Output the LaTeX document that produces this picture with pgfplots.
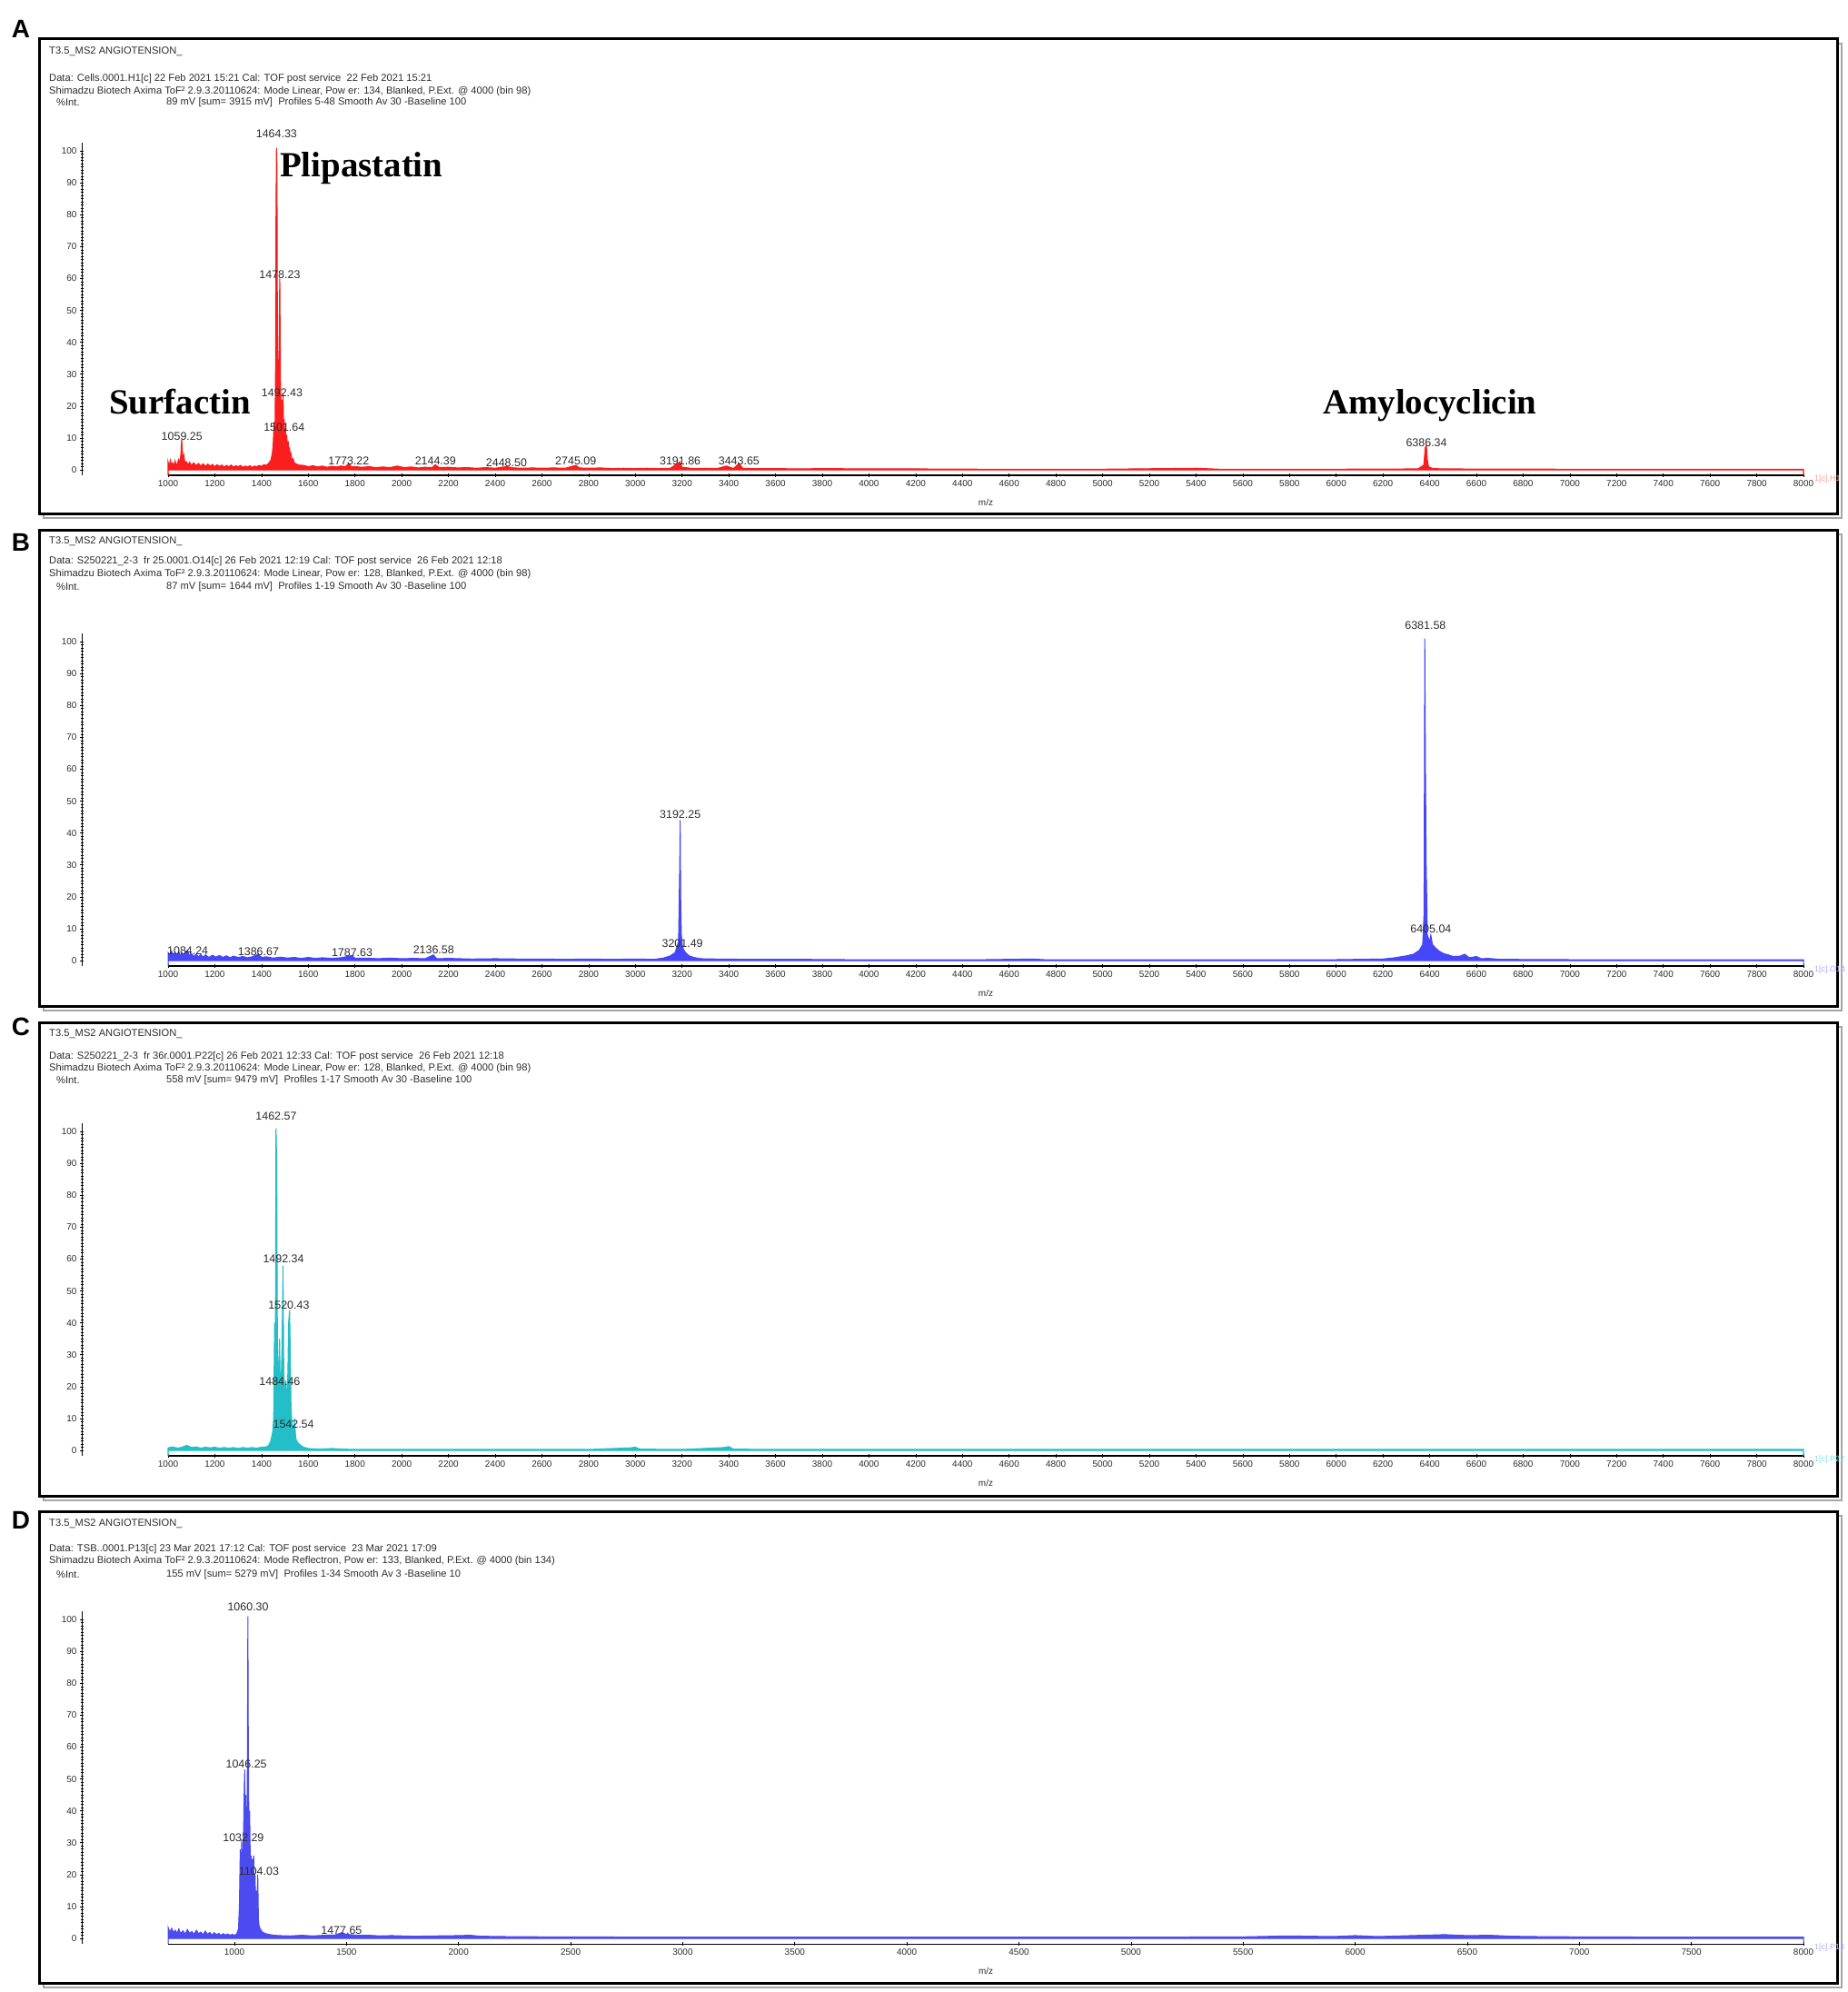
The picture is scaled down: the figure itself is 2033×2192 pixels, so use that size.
\documentclass[border=0pt]{standalone}
\usepackage{fontspec}
\setmainfont{Liberation Sans}
\newfontfamily\tnr{Liberation Serif}
\usepackage{pgfplots}
\pgfplotsset{compat=1.18}

\definecolor{specA}{RGB}{250,30,30}
\definecolor{specB}{RGB}{70,70,250}
\definecolor{specC}{RGB}{35,190,200}
\definecolor{specD}{RGB}{75,75,240}
\definecolor{txt}{RGB}{45,45,45}

\newcommand\hdr{\fontsize{11.2}{12}\selectfont}
\newcommand\tkf{\fontsize{10}{10}\selectfont}
\newcommand\pkf{\fontsize{12.5}{13}\selectfont}
\newcommand\cmpf{\tnr\bfseries\fontsize{39}{40}\selectfont}
\newcommand\plab{\bfseries\fontsize{28}{28}\selectfont}

\pgfplotsset{
  msbase/.style={scale only axis, height=366bp, ymin=-1.7, ymax=102.6,
    clip=false, anchor=south west,
    tick style={black, line width=0.7bp},
    major tick length=4bp, minor tick length=2.5bp, tick align=outside,
    /pgf/number format/1000 sep={}, /pgf/number format/assume math mode=true,
    ticklabel style={font=\tkf, text=txt}},
  spec/.style={msbase, width=1800bp, xmin=1000, xmax=8000,
    axis x line=bottom, axis y line=none,
    axis line style={-, line width=1.1bp},
    every outer x axis line/.append style={-},
    xtick={1000,1200,...,8000}, minor x tick num=3, xlabel={m/z},
    xlabel style={font=\tkf, text=txt, at={(axis description cs:0.5,0)},
      anchor=center, yshift=-30bp}},
  yax/.style={msbase, width=2bp, xmin=0, xmax=1,
    axis y line=left, axis x line=none,
    axis line style={-, line width=0.9bp},
    every outer y axis line/.append style={-},
    tick align=center, minor tick length=3bp,
    ytick={0,10,...,100}, minor y tick num=9},
  peaks/.style={only marks, mark=none, nodes near coords,
    point meta=explicit symbolic,
    nodes near coords style={font=\pkf, text=txt, inner sep=0pt}},
}

\begin{document}
\begin{tikzpicture}[x=1bp,y=1bp]
\path[use as bounding box] (0,0) rectangle (2033,-2192);

\begin{scope}[y=-1bp]
% frames
\foreach \t/\b in {43/565, 583/1107, 1125/1646, 1663/2182}{
  \draw[black!35, line width=2bp] (48,\t+5) -- (2027,\t+5) -- (2027,\b+5) -- (48,\b+5) -- cycle;
  \draw[black, line width=3bp, fill=white] (43,\t) rectangle (2022,\b);
}
% panel letters
\node[font=\plab] at (23,32) {A};
\node[font=\plab] at (23,597) {B};
\node[font=\plab] at (23,1130) {C};
\node[font=\plab] at (23,1673) {D};

\begin{scope}[every node/.style={anchor=west, font=\hdr, text=txt, inner sep=0pt}]
% A
\node at (54,57) {T3.5\_MS2 ANGIOTENSION\_};
\node at (54,87) {Data: Cells.0001.H1[c] 22 Feb 2021 15:21 Cal: TOF post service\ \ 22 Feb 2021 15:21};
\node at (54,101) {Shimadzu Biotech Axima ToF² 2.9.3.20110624: Mode Linear, Pow er: 134, Blanked, P.Ext. @ 4000 (bin 98)};
\node at (62,113) {\%Int.};
\node at (183,113) {89 mV [sum= 3915 mV]\ \ Profiles 5-48 Smooth Av 30 -Baseline 100};
% B
\node at (54,596) {T3.5\_MS2 ANGIOTENSION\_};
\node at (54,618) {Data: S250221\_2-3\ \ fr 25.0001.O14[c] 26 Feb 2021 12:19 Cal: TOF post service\ \ 26 Feb 2021 12:18};
\node at (54,632) {Shimadzu Biotech Axima ToF² 2.9.3.20110624: Mode Linear, Pow er: 128, Blanked, P.Ext. @ 4000 (bin 98)};
\node at (62,646) {\%Int.};
\node at (183,646) {87 mV [sum= 1644 mV]\ \ Profiles 1-19 Smooth Av 30 -Baseline 100};
% C
\node at (54,1138) {T3.5\_MS2 ANGIOTENSION\_};
\node at (54,1163) {Data: S250221\_2-3\ \ fr 36r.0001.P22[c] 26 Feb 2021 12:33 Cal: TOF post service\ \ 26 Feb 2021 12:18};
\node at (54,1176) {Shimadzu Biotech Axima ToF² 2.9.3.20110624: Mode Linear, Pow er: 128, Blanked, P.Ext. @ 4000 (bin 98)};
\node at (62,1189) {\%Int.};
\node at (183,1189) {558 mV [sum= 9479 mV]\ \ Profiles 1-17 Smooth Av 30 -Baseline 100};
% D
\node at (54,1677) {T3.5\_MS2 ANGIOTENSION\_};
\node at (54,1705) {Data: TSB..0001.P13[c] 23 Mar 2021 17:12 Cal: TOF post service\ \ 23 Mar 2021 17:09};
\node at (54,1718) {Shimadzu Biotech Axima ToF² 2.9.3.20110624: Mode Reflectron, Pow er: 133, Blanked, P.Ext. @ 4000 (bin 134)};
\node at (62,1733) {\%Int.};
\node at (183,1733) {155 mV [sum= 5279 mV]\ \ Profiles 1-34 Smooth Av 3 -Baseline 10};
% cut-off trace names at the right edge
\node[font=\fontsize{9}{9}\selectfont, text=specA!45] at (1997,527) {1[c].H1};
\node[font=\fontsize{9}{9}\selectfont, text=specB!45] at (1997,1067) {1[c].O14};
\node[font=\fontsize{9}{9}\selectfont, text=specC!55] at (1997,1606) {1[c].P22};
\node[font=\fontsize{9}{9}\selectfont, text=specD!45] at (1997,2143) {1[c].P13};
\end{scope}

% compound names
\node[anchor=base west, font=\cmpf, inner sep=0pt] at (308,195) {Plipastatin};
\node[anchor=base west, font=\cmpf, inner sep=0pt] at (120,455) {Surfactin};
\node[anchor=base west, font=\cmpf, inner sep=0pt] at (1456,455) {Amylocyclicin};
\end{scope}

% ---------------- A ----------------
\begin{axis}[yax, at={(90bp,-523bp)}]\addplot[draw=none] coordinates {(0,0)};\end{axis}
\begin{axis}[spec, at={(185bp,-523bp)}]
\addplot[specA, fill=specA, line width=1.1bp] coordinates {
(1000,-1.7) (1000,2.5) (1005,1.2) (1010,3.0) (1015,1.5) (1020,2.2) (1025,1.0) (1030,2.8)
(1035,1.4) (1040,2.0) (1045,3.2) (1050,2.0) (1055,5.0) (1058,9.5) (1061,6.0) (1064,3.0)
(1068,4.5) (1072,2.0) (1078,2.6) (1085,1.5) (1092,2.4) (1100,1.4) (1110,2.2) (1120,1.3)
(1130,2.0) (1140,1.2) (1150,1.9) (1160,1.1) (1170,1.8) (1180,1.2) (1190,1.7) (1200,1.0)
(1210,1.6) (1220,1.1) (1230,1.5) (1240,0.9) (1250,1.4) (1260,1.0) (1270,1.5) (1280,0.9)
(1290,1.3) (1300,1.0) (1310,1.4) (1320,0.8) (1330,1.2) (1340,0.9) (1350,1.3) (1360,0.8)
(1370,1.2) (1380,1.0) (1390,1.4) (1400,1.1) (1410,1.6) (1420,1.4) (1430,2.0) (1440,3.0)
(1446,5.0) (1450,8.0) (1454,15) (1457,6) (1460,30) (1462,80) (1464,101) (1466,95)
(1468,40) (1471,20) (1474,30) (1478,60) (1481,28) (1484,15) (1487,22) (1490,18)
(1492,24) (1494,14) (1497,16) (1500,10) (1502,13) (1505,8) (1508,11) (1511,6)
(1514,9) (1517,5) (1520,7) (1523,4) (1526,5) (1530,3) (1535,3.5) (1540,2.2)
(1550,1.8) (1560,1.5) (1580,1.4) (1600,1.0) (1620,1.3) (1640,0.9) (1660,1.2) (1680,0.8)
(1700,1.1) (1720,0.9) (1740,1.2) (1760,1.0) (1773,2.0) (1785,0.9) (1800,1.0) (1830,0.8)
(1860,1.0) (1890,0.7) (1920,0.9) (1950,0.7) (1980,1.2) (2010,0.7) (2040,0.9) (2070,0.6)
(2100,0.8) (2130,0.7) (2144,1.6) (2160,0.7) (2200,0.8) (2240,0.6) (2280,0.7) (2320,0.5)
(2360,0.7) (2400,0.5) (2448,1.0) (2480,0.6) (2520,0.5) (2560,0.6) (2600,0.5) (2650,0.6)
(2700,0.5) (2745,1.4) (2760,0.6) (2800,0.5) (2850,0.6) (2900,0.4) (2950,0.5) (3000,0.4)
(3050,0.5) (3100,0.4) (3150,0.5) (3191,2.5) (3200,0.8) (3250,0.4) (3300,0.5) (3350,0.4)
(3390,1.2) (3420,0.4) (3443,2.0) (3460,0.5) (3500,0.4) (3600,0.4) (3700,0.3) (3800,0.4)
(4000,0.3) (4200,0.3) (4500,0.2) (5000,0.2) (5400,0.5) (5500,0.2) (6000,0.2) (6350,0.3)
(6375,1.5) (6381,7.0) (6386,7.5) (6390,3) (6395,1.0) (6410,0.5) (6450,0.3) (7000,0.2)
(8000,0.2) (8000,-1.7)} \closedcycle;
\addplot[peaks] coordinates {
(1059.25,9.2)[1059.25] (1464.33,104.1)[1464.33] (1478.23,60)[1478.23]
(1488,22.9)[1492.43] (1497,12.1)[1501.64] (1773.22,1.5)[1773.22]
(2144.39,1.5)[2144.39] (2448.50,1.0)[2448.50] (2745.09,1.5)[2745.09]
(3191.86,1.5)[3191.86] (3443.65,1.5)[3443.65] (6386.34,7.2)[6386.34]};
\end{axis}

% ---------------- B ----------------
\begin{axis}[yax, at={(90bp,-1063bp)}]\addplot[draw=none] coordinates {(0,0)};\end{axis}
\begin{axis}[spec, at={(185bp,-1063bp)}]
\addplot[specB, fill=specB, line width=1bp] coordinates {
(1000,-1.7) (1000,2.5) (1008,1.5) (1015,3.0) (1022,1.8) (1030,2.6) (1038,1.4) (1045,2.8)
(1052,1.6) (1060,2.4) (1068,1.5) (1076,2.9) (1084,3.2) (1090,1.6) (1100,2.2) (1110,1.3)
(1120,2.0) (1130,1.2) (1140,1.9) (1150,1.1) (1160,1.8) (1175,1.0) (1190,1.7) (1205,1.1)
(1220,1.6) (1235,1.0) (1250,1.5) (1265,0.9) (1280,1.4) (1300,1.0) (1320,1.3) (1340,0.9)
(1360,1.2) (1386,2.0) (1400,1.0) (1420,1.2) (1450,0.8) (1480,1.1) (1510,0.8) (1540,1.0)
(1570,0.7) (1600,1.0) (1630,0.7) (1660,0.9) (1700,0.7) (1740,0.9) (1787,1.6) (1800,0.7)
(1850,0.8) (1900,0.6) (1950,0.8) (2000,0.6) (2050,0.7) (2100,0.6) (2136,1.8) (2150,0.6)
(2200,0.7) (2300,0.5) (2400,0.6) (2500,0.5) (2600,0.5) (2700,0.4) (2800,0.5) (2900,0.4)
(3000,0.5) (3080,0.4) (3120,0.8) (3150,1.5) (3170,2.5) (3185,6) (3190,30) (3192,44)
(3194,20) (3197,8) (3201,5) (3206,3.5) (3215,2.5) (3230,1.5) (3250,1.0) (3280,0.6)
(3350,0.5) (3500,0.4) (3700,0.4) (3900,0.3) (4200,0.3) (4500,0.3) (4700,0.5) (4750,0.3)
(5000,0.3) (5500,0.3) (6000,0.3) (6200,0.5) (6250,0.9) (6300,1.5) (6330,2.0) (6355,3.2)
(6370,5) (6376,15) (6379,101) (6382,60) (6385,30) (6390,8) (6400,6) (6405,8)
(6412,5) (6425,4) (6440,3) (6460,2.2) (6480,1.8) (6500,1.3) (6530,1.4) (6550,2.0)
(6570,0.9) (6600,1.3) (6620,0.6) (6650,0.7) (6700,0.4) (7000,0.3) (7500,0.3) (8000,0.3)
(8000,-1.7)} \closedcycle;
\addplot[peaks] coordinates {
(1084.24,1.8)[1084.24] (1386.67,1.5)[1386.67] (1787.63,1.3)[1787.63]
(2136.58,2.1)[2136.58] (3192.25,44.6)[3192.25] (3201.49,4.1)[3201.49]
(6381.58,103.7)[6381.58] (6405.04,8.7)[6405.04]};
\end{axis}

% ---------------- C ----------------
\begin{axis}[yax, at={(90bp,-1602bp)}]\addplot[draw=none] coordinates {(0,0)};\end{axis}
\begin{axis}[spec, at={(185bp,-1602bp)}]
\addplot[specC, fill=specC, line width=1.1bp] coordinates {
(1000,-1.7) (1000,0.8) (1020,1.1) (1040,0.7) (1060,1.0) (1080,1.6) (1100,0.9) (1120,1.1)
(1140,0.7) (1160,1.0) (1180,0.8) (1200,1.0) (1220,0.7) (1240,0.9) (1260,0.7) (1280,0.9)
(1300,0.6) (1320,0.9) (1340,0.7) (1360,0.9) (1380,0.7) (1400,1.0) (1420,1.1) (1430,1.5)
(1440,3) (1448,6) (1452,10) (1456,40) (1459,20) (1462,101) (1465,90) (1468,30)
(1471,15) (1474,28) (1477,35) (1480,20) (1484,22) (1487,30) (1490,45) (1492,58)
(1495,25) (1498,20) (1501,15) (1504,22) (1507,12) (1510,18) (1513,25) (1516,40)
(1520,44) (1523,30) (1526,14) (1529,10) (1532,8) (1536,6) (1542,9) (1546,4)
(1550,3) (1560,2) (1580,1.0) (1600,0.6) (1650,0.4) (1700,0.6) (1750,0.4) (1800,0.3)
(2000,0.3) (2400,0.3) (2800,0.3) (2980,0.8) (3000,1.0) (3020,0.4) (3200,0.3) (3380,0.9)
(3400,1.2) (3420,0.4) (3600,0.3) (4000,0.3) (5000,0.3) (6000,0.3) (7000,0.3) (8000,0.3)
(8000,-1.7)} \closedcycle;
\addplot[peaks] coordinates {
(1462.57,103.5)[1462.57] (1494,58.8)[1492.34] (1517,44.3)[1520.43]
(1478,20.4)[1484.46] (1537,7)[1542.54]};
\end{axis}

% ---------------- D ----------------
\begin{axis}[yax, at={(90bp,-2139bp)}]\addplot[draw=none] coordinates {(0,0)};\end{axis}
\begin{axis}[spec, at={(185bp,-2139bp)}, xmin=704, xmax=8000,
  xtick={1000,1500,...,8000}, minor x tick num=0]
\addplot[specD, fill=specD, line width=1bp] coordinates {
(704,-1.7) (704,3.5) (712,2.0) (720,3.2) (728,1.8) (736,2.6) (744,1.6) (752,3.0)
(760,1.5) (770,2.4) (780,1.4) (790,2.8) (800,1.6) (810,2.2) (820,1.3) (830,2.6)
(840,1.5) (850,2.0) (860,1.2) (870,2.3) (880,1.3) (890,1.9) (900,1.1) (910,1.8)
(920,1.2) (930,1.6) (940,1.0) (950,1.5) (960,1.1) (970,1.4) (980,1.0) (990,1.3)
(1000,1.0) (1010,1.4) (1018,3) (1022,10) (1026,28) (1029,15) (1032,31) (1035,20)
(1038,27) (1041,35) (1044,48) (1046,53) (1048,30) (1051,45) (1054,25) (1057,40)
(1060,101) (1062,60) (1065,30) (1068,40) (1071,22) (1074,26) (1077,15) (1080,25)
(1083,18) (1086,26) (1089,14) (1092,20) (1095,10) (1098,15) (1101,8) (1104,20)
(1107,6) (1110,4) (1115,3) (1125,2) (1140,1.5) (1160,1.2) (1180,1.0) (1200,0.9)
(1250,0.8) (1300,1.0) (1350,0.8) (1400,1.0) (1450,1.1) (1477,1.8) (1500,1.3) (1550,1.0)
(1600,1.0) (1650,0.8) (1700,0.9) (1800,0.7) (1900,0.8) (2000,0.9) (2050,1.0) (2100,0.7)
(2200,0.6) (2400,0.5) (2600,0.5) (2800,0.4) (3000,0.4) (3500,0.4) (4000,0.4) (4500,0.4)
(5000,0.4) (5500,0.5) (5700,0.8) (5900,0.6) (6000,0.9) (6100,0.6) (6200,0.8) (6300,1.0)
(6400,1.2) (6500,0.9) (6600,1.0) (6700,0.7) (6800,0.6) (7000,0.5) (7500,0.4) (8000,0.4)
(8000,-1.7)} \closedcycle;
\addplot[peaks] coordinates {
(1061,102.7)[1060.30] (1053,53.5)[1046.25] (1040,30.2)[1032.29]
(1109,19.7)[1104.03] (1477.65,1.2)[1477.65]};
\end{axis}
\end{tikzpicture}
\end{document}
